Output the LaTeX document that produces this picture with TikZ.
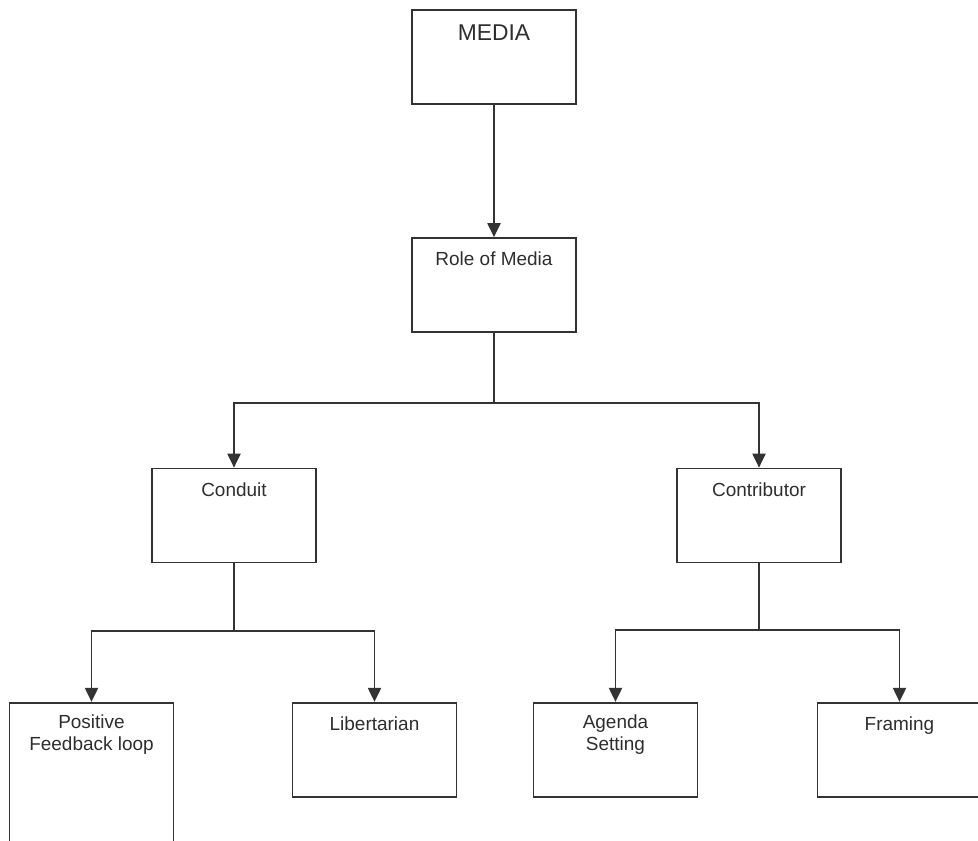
\documentclass[tikz,border=0pt]{standalone}
\usepackage{fontspec}
\setmainfont{Liberation Sans}
\usetikzlibrary{%
	positioning,%
	calc,%
	arrows.meta%
}

\definecolor{edgegray}{HTML}{333333}
\definecolor{inkgray}{HTML}{2E2E2E}

\tikzset{
	box/.style={draw=edgegray, line width=1pt, minimum width=3.28cm, minimum height=1.88cm, inner sep=0pt},
	tallbox/.style={box, minimum height=3.2cm},
	boxtext/.style={anchor=north, inner sep=0pt, align=center, yshift=-0.286cm, text=inkgray, font=\fontsize{10.8}{12.6}\selectfont},
	twotext/.style={boxtext, yshift=0.042cm},
	bigtext/.style={boxtext, yshift=-0.034cm, font=\fontsize{13}{15}\selectfont},
	link/.style={draw=edgegray, line width=1pt}
}

\begin{document}
\begin{tikzpicture}[x=0.02cm, y=-0.02cm, >={Triangle[length=8pt,width=7.5pt]}]
	\useasboundingbox (0,0) rectangle (978,841);
	\clip (0,0) rectangle (978,841);

	% Boxes
	\node[box, label={[bigtext]north:MEDIA}] (media) at (494,56.7) {};
	\node[box, label={[boxtext]north:Role of Media}] (role) at (494,285) {};
	\node[box, label={[boxtext]north:Conduit}] (conduit) at (234,515.5) {};
	\node[box, label={[boxtext]north:Contributor}] (contributor) at (759,515.5) {};
	\node[tallbox, label={[twotext]north:Positive\\Feedback loop}] (feedback) at (91.5,782.7) {};
	\node[box, label={[boxtext]north:Libertarian}] (libertarian) at (374.5,749.7) {};
	\node[box, label={[twotext]north:Agenda\\Setting}] (agenda) at (615.5,749.7) {};
	\node[box, label={[boxtext]north:Framing}] (framing) at (899.5,749.7) {};

	% Split points
	\coordinate (rolesplit) at ($(role.south)+(0,70)$);
	\coordinate (conduitsplit) at ($(conduit.south)+(0,68)$);
	\coordinate (contribsplit) at ($(contributor.south)+(0,67)$);

	% Edges
	\draw[link,->] (media) -- (role);
	\draw[link] (role.south) -- (rolesplit);
	\draw[link] (conduit.south) -- (conduitsplit);
	\draw[link] (contributor.south) -- (contribsplit);

	\foreach \from/\to in {rolesplit/conduit, rolesplit/contributor,
		conduitsplit/feedback, conduitsplit/libertarian,
		contribsplit/agenda, contribsplit/framing}
	\draw[link,->] (\from) -| (\to.north);
\end{tikzpicture}
\end{document}
